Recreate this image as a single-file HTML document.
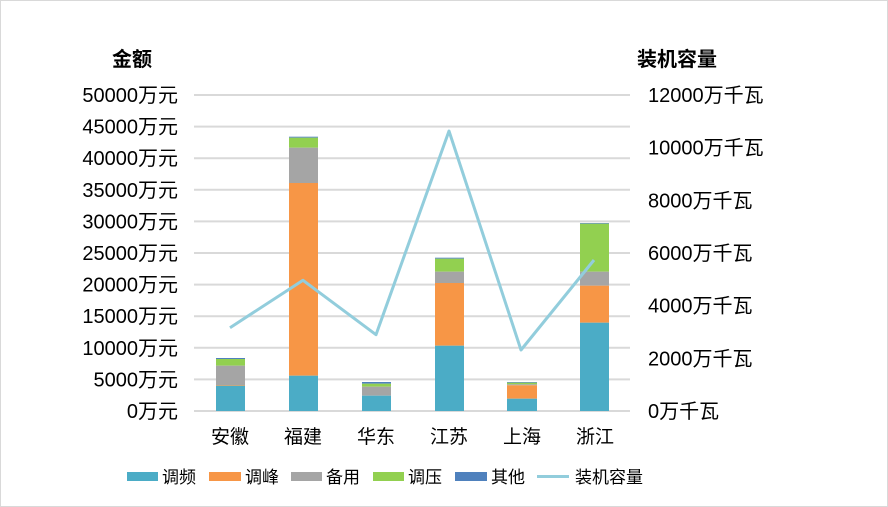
<!DOCTYPE html>
<html><head><meta charset="utf-8"><style>
body{margin:0;width:888px;height:507px;background:#fff;overflow:hidden;font-family:"Liberation Sans","Noto Sans CJK SC",sans-serif;}
</style></head><body>
<svg width="888" height="507" xmlns="http://www.w3.org/2000/svg" style="position:absolute;left:0;top:0;font-family:'Liberation Sans','Noto Sans CJK SC',sans-serif">
<rect x="0.5" y="0.5" width="887" height="506" fill="#fff" stroke="#d9d9d9"/>
<g stroke="#d9d9d9" stroke-width="2">
<line x1="194" x2="630" y1="95" y2="95"/><line x1="194" x2="630" y1="126.6" y2="126.6"/>
<line x1="194" x2="630" y1="158.2" y2="158.2"/><line x1="194" x2="630" y1="189.8" y2="189.8"/>
<line x1="194" x2="630" y1="221.4" y2="221.4"/><line x1="194" x2="630" y1="253" y2="253"/>
<line x1="194" x2="630" y1="284.6" y2="284.6"/><line x1="194" x2="630" y1="316.2" y2="316.2"/>
<line x1="194" x2="630" y1="347.8" y2="347.8"/><line x1="194" x2="630" y1="379.4" y2="379.4"/>
<line x1="194" x2="630" y1="411" y2="411"/>
</g>
<g>
<rect x="216" y="358" width="29" height="1" fill="#4f81bd"/><rect x="216" y="359" width="29" height="6.7" fill="#92d050"/>
<rect x="216" y="365.7" width="29" height="19.3" fill="#a5a5a5"/><rect x="216" y="385" width="29" height="0.7" fill="#f79646"/>
<rect x="216" y="385.7" width="29" height="25.3" fill="#4bacc6"/>
<rect x="289" y="136.7" width="29" height="1" fill="#4f81bd"/><rect x="289" y="137.7" width="29" height="10" fill="#92d050"/>
<rect x="289" y="147.7" width="29" height="35.3" fill="#a5a5a5"/><rect x="289" y="183" width="29" height="192.7" fill="#f79646"/>
<rect x="289" y="375.7" width="29" height="35.3" fill="#4bacc6"/>
<rect x="362" y="382" width="29" height="1.7" fill="#4f81bd"/><rect x="362" y="383.7" width="29" height="3" fill="#92d050"/>
<rect x="362" y="386.7" width="29" height="9" fill="#a5a5a5"/><rect x="362" y="395.7" width="29" height="15.3" fill="#4bacc6"/>
<rect x="435" y="257.7" width="29" height="1" fill="#4f81bd"/><rect x="435" y="258.7" width="29" height="13" fill="#92d050"/>
<rect x="435" y="271.7" width="29" height="11.3" fill="#a5a5a5"/><rect x="435" y="283" width="29" height="62.7" fill="#f79646"/>
<rect x="435" y="345.7" width="29" height="65.3" fill="#4bacc6"/>
<rect x="507" y="382" width="30" height="0.7" fill="#4f81bd"/><rect x="507" y="382.7" width="30" height="1.6" fill="#92d050"/>
<rect x="507" y="384.3" width="30" height="1" fill="#a5a5a5"/><rect x="507" y="385.3" width="30" height="13.4" fill="#f79646"/>
<rect x="507" y="398.7" width="30" height="12.3" fill="#4bacc6"/>
<rect x="580" y="223" width="29" height="0.7" fill="#4f81bd"/><rect x="580" y="223.7" width="29" height="48" fill="#92d050"/>
<rect x="580" y="271.7" width="29" height="14" fill="#a5a5a5"/><rect x="580" y="285.7" width="29" height="37" fill="#f79646"/>
<rect x="580" y="322.7" width="29" height="88.3" fill="#4bacc6"/>
</g>
<polyline points="230,327.7 303,280.3 376,334.7 449,131 521,350 594,260" fill="none" stroke="#92cddc" stroke-width="3" stroke-linejoin="round"/>
<g font-size="20" fill="#000" text-anchor="end">
<text x="178" y="102">50000万元</text><text x="178" y="133.6">45000万元</text><text x="178" y="165.2">40000万元</text>
<text x="178" y="196.8">35000万元</text><text x="178" y="228.4">30000万元</text><text x="178" y="260">25000万元</text>
<text x="178" y="291.6">20000万元</text><text x="178" y="323.2">15000万元</text><text x="178" y="354.8">10000万元</text>
<text x="178" y="386.4">5000万元</text><text x="178" y="418">0万元</text>
</g>
<g font-size="20" fill="#000">
<text x="648" y="102">12000万千瓦</text><text x="648" y="154.7">10000万千瓦</text><text x="648" y="207.3">8000万千瓦</text>
<text x="648" y="260">6000万千瓦</text><text x="648" y="312.7">4000万千瓦</text><text x="648" y="365.3">2000万千瓦</text>
<text x="648" y="418">0万千瓦</text>
</g>
<text x="112" y="66" font-size="20" font-weight="bold">金额</text>
<text x="637" y="66" font-size="20" font-weight="bold">装机容量</text>
<g font-size="19" text-anchor="middle">
<text x="230" y="443">安徽</text><text x="303" y="443">福建</text><text x="376" y="443">华东</text>
<text x="449" y="443">江苏</text><text x="522" y="443">上海</text><text x="595" y="443">浙江</text>
</g>
<g font-size="17">
<rect x="127" y="472" width="31" height="9" fill="#4bacc6"/><text x="162" y="483">调频</text>
<rect x="209" y="472" width="32" height="9" fill="#f79646"/><text x="245" y="483">调峰</text>
<rect x="291" y="472" width="31" height="9" fill="#a5a5a5"/><text x="326" y="483">备用</text>
<rect x="373" y="472" width="31" height="9" fill="#92d050"/><text x="408" y="483">调压</text>
<rect x="455" y="472" width="32" height="9" fill="#4f81bd"/><text x="491" y="483">其他</text>
<line x1="537" x2="569" y1="476.5" y2="476.5" stroke="#92cddc" stroke-width="3"/><text x="575" y="483">装机容量</text>
</g>
</svg>
</body></html>
